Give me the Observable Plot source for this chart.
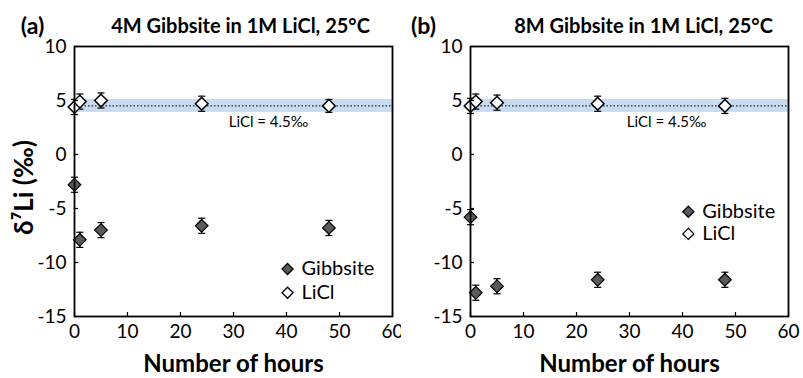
<!DOCTYPE html>
<html><head><meta charset="utf-8">
<script src="https://cdn.jsdelivr.net/npm/d3@7"></script>
<script src="https://cdn.jsdelivr.net/npm/@observablehq/plot@0.6"></script>
<style>
body{margin:0;background:#fff;}
#wrap{display:flex;width:803px;height:378px;}
#wrap svg{overflow:visible;display:block;}
</style>
</head><body><div id="wrap"></div>
<script>
// ---- data ----
const hours = [0, 1, 5, 24, 48];
const gibbsiteA = [-2.8, -7.9, -7.0, -6.6, -6.8];
const liclA = [4.4, 4.9, 5.0, 4.7, 4.5];
const gibbsiteErrA = [0.7, 0.7, 0.7, 0.7, 0.7];
const liclErrA = [0.7, 0.7, 0.7, 0.7, 0.6];
const gibbsiteB = [-5.8, -12.8, -12.2, -11.6, -11.6];
const liclB = [4.5, 4.9, 4.8, 4.7, 4.5];
const gibbsiteErrB = [0.7, 0.7, 0.7, 0.7, 0.7];
const liclErrB = [0.7, 0.7, 0.7, 0.7, 0.7];
const liclMean = 4.5;
const liclBand = [3.9, 5.1];
const xTicks = [0, 10, 20, 30, 40, 50, 60];
const yTicks = [-15, -10, -5, 0, 5, 10];
const titles = ["4M Gibbsite in 1M LiCl, 25°C", "8M Gibbsite in 1M LiCl, 25°C"];
const letters = ["(a)", "(b)"];
const seriesNames = ["Gibbsite", "LiCl"];
const noteText = "LiCl = 4.5‰";
const xLabel = "Number of hours";
const yLabel = "δ⁷Li (‰)";

const FONT = "Lato, 'Open Sans', sans-serif";
const capSymbol = {draw(ctx, size) { const w = Math.sqrt(size); ctx.moveTo(-w, 0); ctx.lineTo(w, 0); }};
const fmt = d => String(d);

function panel(o) {
  const rows = hours.map((h, i) => ({h, g: o.gib[i], l: o.lic[i], ge: o.gibErr[i], le: o.licErr[i]}));
  const legendRows = seriesNames.map((s, i) => ({s, y: o.legendY[i], fill: i === 0 ? "#5a5a5a" : "white"}));
  const marks = [
    Plot.rect([liclBand], {y1: d => d[0], y2: d => d[1], fill: "#c9dbf0"}),
    Plot.ruleY([liclMean], {stroke: "#222", strokeWidth: 1.2, strokeDasharray: "1.5,2"}),
    Plot.text([noteText], {x: o.noteX, y: 3.0, text: d => d, fontSize: 15, fill: "black"}),
    // error bars
    Plot.ruleX(rows, {x: "h", y1: d => d.g - d.ge, y2: d => d.g + d.ge, stroke: "black", strokeWidth: 1.2}),
    Plot.ruleX(rows, {x: "h", y1: d => d.l - d.le, y2: d => d.l + d.le, stroke: "black", strokeWidth: 1.2}),
    Plot.dot(rows, {x: "h", y: d => d.g - d.ge, symbol: capSymbol, r: 2, stroke: "black", strokeWidth: 1.2}),
    Plot.dot(rows, {x: "h", y: d => d.g + d.ge, symbol: capSymbol, r: 2, stroke: "black", strokeWidth: 1.2}),
    Plot.dot(rows, {x: "h", y: d => d.l - d.le, symbol: capSymbol, r: 2, stroke: "black", strokeWidth: 1.2}),
    Plot.dot(rows, {x: "h", y: d => d.l + d.le, symbol: capSymbol, r: 2, stroke: "black", strokeWidth: 1.2}),
    // points
    Plot.dot(rows, {x: "h", y: "g", symbol: "diamond2", r: 5.7, fill: "#5a5a5a", stroke: "black", strokeWidth: 1.2}),
    Plot.dot(rows, {x: "h", y: "l", symbol: "diamond2", r: 5.7, fill: "white", stroke: "black", strokeWidth: 1.5}),
    // legend
    Plot.dot(legendRows, {x: o.legendX, y: "y", symbol: "diamond2", r: 5, fill: "fill", stroke: "black", strokeWidth: 1.3}),
    Plot.text(legendRows, {x: o.legendX, y: "y", text: "s", dx: 14, textAnchor: "start", fontSize: 20, fill: "black"}),
    // axes
    Plot.axisX({ticks: xTicks, tickFormat: fmt, tickSize: 0, tickPadding: 8, label: null, fontSize: 19}),
    Plot.axisX({ticks: xTicks, tickSize: -4, tickFormat: () => "", label: null, strokeWidth: 1.2}),
    Plot.axisY({ticks: yTicks, tickFormat: fmt, tickSize: 0, tickPadding: 8, label: null, fontSize: 19}),
    Plot.axisY({ticks: yTicks, tickSize: -4, tickFormat: () => "", label: null, strokeWidth: 1.2}),
    Plot.frame({stroke: "black", strokeWidth: 1.8}),
    // titles
    Plot.text([o.title], {frameAnchor: "top", lineAnchor: "middle", textAnchor: "middle", dx: o.titleDx, dy: -20, text: d => d, fontSize: 20, fontWeight: "bold", fill: "black"}),
    Plot.text([o.letter], {frameAnchor: "top-left", lineAnchor: "middle", textAnchor: "middle", dx: o.letterDx, dy: -20, text: d => d, fontSize: 23, fontWeight: "bold", fill: "black"}),
    Plot.text([xLabel], {frameAnchor: "bottom", lineAnchor: "middle", textAnchor: "middle", dy: 48, text: d => d, fontSize: 24, fontWeight: "bold", fill: "black"})
  ];
  if (o.yLabel) marks.push(Plot.text([o.yLabel], {frameAnchor: "left", lineAnchor: "middle", textAnchor: "middle", dx: -50, dy: 6, rotate: -90, text: d => d, fontSize: 26, fontWeight: "bold", fill: "black"}));
  return Plot.plot({
    width: o.width, height: 378,
    marginLeft: o.marginLeft, marginRight: o.marginRight, marginTop: 46, marginBottom: 62,
    style: {fontFamily: FONT, color: "black", background: "white", overflow: "visible"},
    x: {domain: [xTicks[0], xTicks[xTicks.length - 1]]},
    y: {domain: [yTicks[0], yTicks[yTicks.length - 1]]},
    marks
  });
}

const wrap = document.getElementById("wrap");
wrap.append(panel({
  title: titles[0], letter: letters[0], gib: gibbsiteA, lic: liclA, gibErr: gibbsiteErrA, licErr: liclErrA,
  width: 401, marginLeft: 74, marginRight: 9, legendX: 40.2, legendY: [-10.6, -12.8], noteX: 36.6,
  titleDx: 7, letterDx: -42, yLabel
}));
wrap.append(panel({
  title: titles[1], letter: letters[1], gib: gibbsiteB, lic: liclB, gibErr: gibbsiteErrB, licErr: liclErrB,
  width: 402, marginLeft: 69, marginRight: 15, legendX: 41.1, legendY: [-5.3, -7.35], noteX: 37,
  titleDx: 14, letterDx: -47, yLabel: null
}));
</script>
</body></html>
